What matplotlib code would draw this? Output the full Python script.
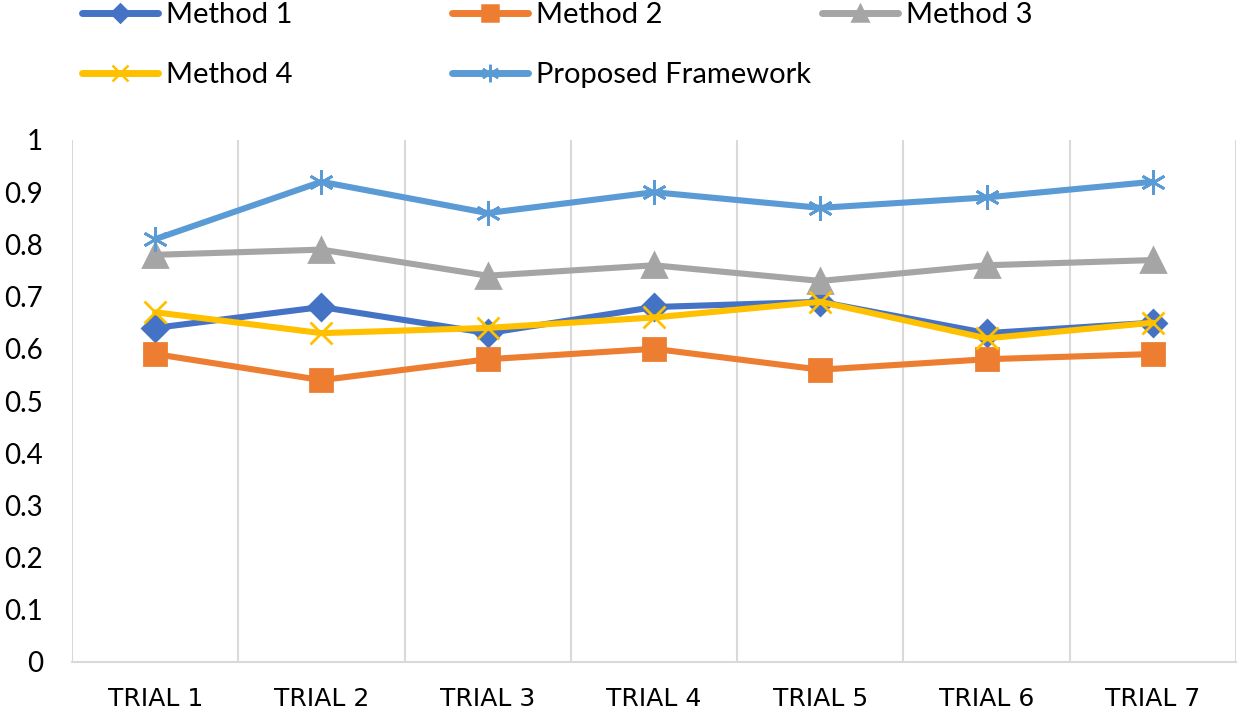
import matplotlib.pyplot as plt
from matplotlib.lines import Line2D

# chart data
trials = ['TRIAL 1', 'TRIAL 2', 'TRIAL 3', 'TRIAL 4', 'TRIAL 5', 'TRIAL 6', 'TRIAL 7']
method1 = [0.64, 0.68, 0.63, 0.68, 0.69, 0.63, 0.65]
method2 = [0.59, 0.54, 0.58, 0.60, 0.56, 0.58, 0.59]
method3 = [0.78, 0.79, 0.74, 0.76, 0.73, 0.76, 0.77]
method4 = [0.67, 0.63, 0.64, 0.66, 0.69, 0.62, 0.65]
proposed = [0.81, 0.92, 0.86, 0.90, 0.87, 0.89, 0.92]
y_ticks = [0, 0.1, 0.2, 0.3, 0.4, 0.5, 0.6, 0.7, 0.8, 0.9, 1]

plt.rcParams['font.family'] = ['Lato', 'DejaVu Sans']

W, H = 1239, 712
fig = plt.figure(figsize=(W / 100, H / 100), dpi=100)
ax = fig.add_axes([72 / W, 1 - 662 / H, 1164 / W, 522 / H])

x = list(range(len(trials)))
series = [
    ('Method 1', method1, '#4472C4', 'D', 13),
    ('Method 2', method2, '#ED7D31', 's', 16),
    ('Method 3', method3, '#A5A5A5', '^', 17),
    ('Method 4', method4, '#FFC000', 'x', 16),
    ('Proposed Framework', proposed, '#5B9BD5', (6, 2, 0), 18),
]

handles = {}
for name, vals, col, mk, ms in series:
    ax.plot(x, vals, color=col, lw=4.4, marker=mk, markersize=ms,
            markerfacecolor=col, markeredgecolor=col, markeredgewidth=2,
            solid_joinstyle='round', solid_capstyle='round', zorder=3)
    handles[name] = Line2D([], [], color=col, lw=5, marker=mk,
                           markersize=ms * 0.7, markerfacecolor=col,
                           markeredgecolor=col, markeredgewidth=1.8,
                           solid_capstyle='round')

ax.set_xlim(-0.5, len(trials) - 0.5)
ax.set_ylim(0, 1)
ax.set_yticks(y_ticks)
ax.set_yticklabels([f'{v:g}' for v in y_ticks], fontsize=20)
ax.set_xticks(x)
ax.set_xticklabels(trials, fontsize=18, family='DejaVu Sans')
ax.set_xticks([i - 0.5 for i in range(len(trials) + 1)], minor=True)
ax.grid(True, which='minor', axis='x', color='#D9D9D9', lw=1.5, zorder=0)
ax.tick_params(axis='both', which='both', length=0)
ax.tick_params(axis='x', pad=18)
ax.tick_params(axis='y', pad=21)
for s in ['top', 'right', 'left']:
    ax.spines[s].set_visible(False)
ax.spines['bottom'].set_color('#D9D9D9')
ax.spines['bottom'].set_linewidth(1.5)

# legend entries laid out on an even grid, three per row
legend_pos = {
    'Method 1': (82, 15), 'Method 2': (452, 15), 'Method 3': (822, 15),
    'Method 4': (82, 75), 'Proposed Framework': (452, 75),
}
for name, (lx, ly) in legend_pos.items():
    fig.legend([handles[name]], [name], loc='center left',
               bbox_to_anchor=(lx / W, 1 - ly / H), frameon=False,
               fontsize=21, borderpad=0, borderaxespad=0,
               handlelength=2.6, handletextpad=0.28)

fig.savefig('out.png', dpi=100)
